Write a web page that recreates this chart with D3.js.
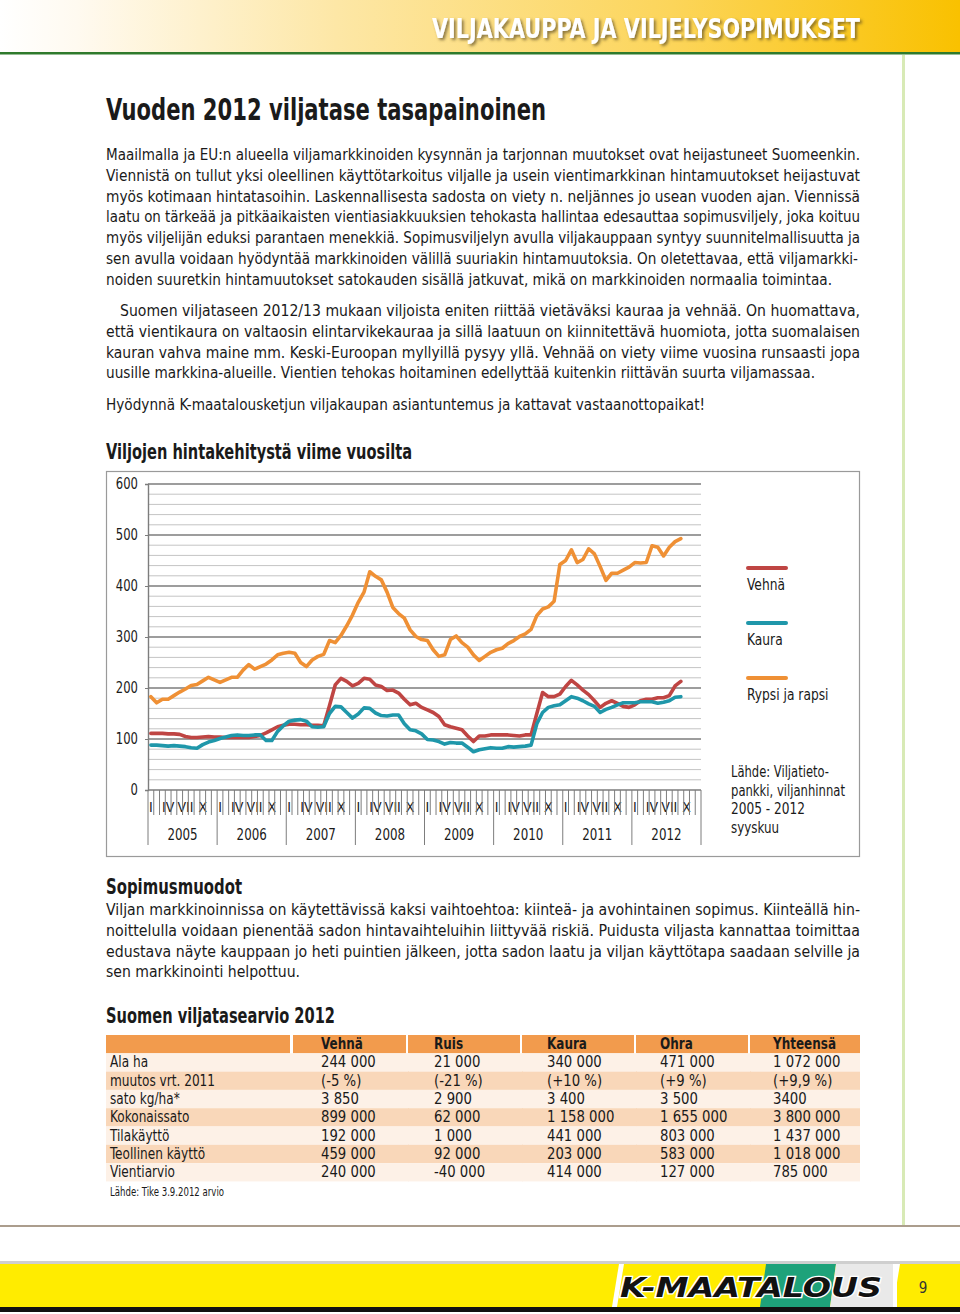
<!DOCTYPE html>
<html><head><meta charset="utf-8">
<script src="https://cdn.jsdelivr.net/npm/d3@7"></script>
<style>
html,body{margin:0;padding:0;background:#fff;}
svg{display:block;}
</style></head>
<body>
<svg id="page" width="960" height="1314"></svg>
<script>
// ---------- DATA ----------
const years = [2005, 2006, 2007, 2008, 2009, 2010, 2011, 2012];
const monthLabels = ["I","II","III","IV","V","VI","VII","VIII","IX","X","XI","XII"];
const shownMonthLabels = ["I","IV","VII","X"];
const yTicks = [0, 100, 200, 300, 400, 500, 600];
const seriesNames = ["Vehnä", "Kaura", "Rypsi ja rapsi"];
// monthly prices Jan 2005 .. Sep 2012 (€/t)
const vehna = [111,111,111,110,110,109,105,103,103,104,105,104,
  104,103,103,103,103,103,105,107,112,118,124,127,
  129,129,128,128,127,127,126,165,206,219,213,204,
  209,219,217,206,203,195,196,190,178,167,170,162,
  157,152,144,128,124,121,118,106,95,106,106,108,
  108,108,108,107,106,108,108,150,191,183,183,188,
  203,215,206,196,187,175,162,170,175,170,164,162,
  167,175,178,178,181,181,185,204,213];
const kaura = [88,88,87,86,87,86,85,83,82,89,94,97,
  101,104,107,108,107,107,108,108,97,97,115,126,
  135,137,138,135,124,123,124,150,164,163,152,141,
  149,161,160,151,146,145,147,147,130,118,116,110,
  99,98,95,90,93,92,92,84,75,79,81,83,
  82,82,85,84,85,86,88,130,152,162,165,167,
  175,183,180,175,169,164,152,158,162,167,171,171,
  171,173,173,173,170,172,175,182,183];
const rypsi = [183,171,178,178,185,192,198,205,207,214,221,216,
  211,216,221,221,235,246,237,242,247,255,265,268,
  270,268,250,242,255,262,266,293,289,303,322,343,
  368,388,428,419,412,388,358,346,337,314,301,295,
  293,275,262,265,295,302,289,280,265,254,262,270,
  275,278,287,293,301,306,315,342,355,359,370,442,
  450,471,446,452,473,463,438,411,425,425,431,437,
  446,445,446,479,476,459,476,487,493];

const tableCols = ["", "Vehnä", "Ruis", "Kaura", "Ohra", "Yhteensä"];
const tableRowLabels = ["Ala ha","muutos vrt. 2011","sato kg/ha*","Kokonaissato","Tilakäyttö","Teollinen käyttö","Vientiarvio"];
const colVehna = ["244 000","(-5 %)","3 850","899 000","192 000","459 000","240 000"];
const colRuis = ["21 000","(-21 %)","2 900","62 000","1 000","92 000","-40 000"];
const colKaura = ["340 000","(+10 %)","3 400","1 158 000","441 000","203 000","414 000"];
const colOhra = ["471 000","(+9 %)","3 500","1 655 000","803 000","583 000","127 000"];
const colYht = ["1 072 000","(+9,9 %)","3400","3 800 000","1 437 000","1 018 000","785 000"];

const para1 = [
 "Maailmalla ja EU:n alueella viljamarkkinoiden kysynnän ja tarjonnan muutokset ovat heijastuneet Suomeenkin.",
 "Viennistä on tullut yksi oleellinen käyttötarkoitus viljalle ja usein vientimarkkinan hintamuutokset heijastuvat",
 "myös kotimaan hintatasoihin. Laskennallisesta sadosta on viety n. neljännes jo usean vuoden ajan. Viennissä",
 "laatu on tärkeää ja pitkäaikaisten vientiasiakkuuksien tehokasta hallintaa edesauttaa sopimusviljely, joka koituu",
 "myös viljelijän eduksi parantaen menekkiä. Sopimusviljelyn avulla viljakauppaan syntyy suunnitelmallisuutta ja",
 "sen avulla voidaan hyödyntää markkinoiden välillä suuriakin hintamuutoksia. On oletettavaa, että viljamarkki-",
 "noiden suuretkin hintamuutokset satokauden sisällä jatkuvat, mikä on markkinoiden normaalia toimintaa."];
const para2 = [
 "Suomen viljataseen 2012/13 mukaan viljoista eniten riittää vietäväksi kauraa ja vehnää. On huomattava,",
 "että vientikaura on valtaosin elintarvikekauraa ja sillä laatuun on kiinnitettävä huomiota, jotta suomalaisen",
 "kauran vahva maine mm. Keski-Euroopan myllyillä pysyy yllä. Vehnää on viety viime vuosina runsaasti jopa",
 "uusille markkina-alueille. Vientien tehokas hoitaminen edellyttää kuitenkin riittävän suurta viljamassaa."];
const para3 = ["Hyödynnä K-maatalousketjun viljakaupan asiantuntemus ja kattavat vastaanottopaikat!"];
const para4 = [
 "Viljan markkinoinnissa on käytettävissä kaksi vaihtoehtoa: kiinteä- ja avohintainen sopimus. Kiinteällä hin-",
 "noittelulla voidaan pienentää sadon hintavaihteluihin liittyvää riskiä. Puidusta viljasta kannattaa toimittaa",
 "edustava näyte kauppaan jo heti puintien jälkeen, jotta sadon laatu ja viljan käyttötapa saadaan selville ja",
 "sen markkinointi helpottuu."];
const sourceLines = ["Lähde: Viljatieto-","pankki, viljanhinnat","2005 - 2012","syyskuu"];

// ---------- PAGE ----------
const FONT = "'Liberation Sans Narrow','DejaVu Sans Condensed','Roboto',sans-serif";
const svg = d3.select("#page");
const defs = svg.append("defs");
const hg = defs.append("linearGradient").attr("id","hdr").attr("x1","0").attr("x2","1").attr("y1","0").attr("y2","0");
hg.append("stop").attr("offset","0").attr("stop-color","#ffffff");
hg.append("stop").attr("offset","0.08").attr("stop-color","#fffaf0");
hg.append("stop").attr("offset","0.35").attr("stop-color","#fde7a6");
hg.append("stop").attr("offset","0.7").attr("stop-color","#fcd55a");
hg.append("stop").attr("offset","1").attr("stop-color","#f9c100");
const sh = defs.append("filter").attr("id","shadow").attr("x","-5%").attr("y","-20%").attr("width","110%").attr("height","160%");
sh.append("feDropShadow").attr("dx",2).attr("dy",2).attr("stdDeviation",1.5).attr("flood-color","#5a4a20").attr("flood-opacity",0.7);

svg.append("rect").attr("x",0).attr("y",0).attr("width",960).attr("height",52).attr("fill","url(#hdr)");
svg.append("rect").attr("x",0).attr("y",52).attr("width",960).attr("height",2.5).attr("fill","#2f7a2c");
svg.append("text").attr("x",860).attr("y",38).attr("text-anchor","end")
  .attr("font-family",FONT).attr("font-weight","bold").attr("font-size",27)
  .attr("fill","#ffffff").attr("filter","url(#shadow)")
  .attr("textLength",428).attr("lengthAdjust","spacingAndGlyphs")
  .text("VILJAKAUPPA JA VILJELYSOPIMUKSET");
// right pale green rule
svg.append("rect").attr("x",902).attr("y",55).attr("width",3).attr("height",1170).attr("fill","#d8eab6");

function compress(sel, k) {
  sel.each(function(){
    const w = this.getComputedTextLength();
    d3.select(this).attr("textLength", w*k).attr("lengthAdjust","spacingAndGlyphs");
  });
  return sel;
}
function textLine(x, y, str, size, opts={}) {
  const t = svg.append("text").attr("x",x).attr("y",y)
    .attr("font-family",FONT).attr("font-size",size).attr("fill",opts.fill||"#1a1a1a")
    .attr("font-weight",opts.bold?"bold":"normal").text(str);
  if (opts.width) t.attr("textLength",opts.width).attr("lengthAdjust",opts.adjust||"spacingAndGlyphs");
  if (opts.k) compress(t, opts.k);
  return t;
}

textLine(106,120,"Vuoden 2012 viljatase tasapainoinen",31,{bold:true,width:440});
const p1W = [754,754,754,754,754,752,726];
para1.forEach((s,i)=>textLine(106,160+i*20.8,s,16.5,{width:p1W[i]}));
const p2X = [120,106,106,106], p2W = [740,754,754,709];
para2.forEach((s,i)=>textLine(p2X[i],316+i*20.8,s,16.5,{width:p2W[i]}));
textLine(106,410,para3[0],16.5,{width:599});

textLine(106,459,"Viljojen hintakehitystä viime vuosilta",20.5,{bold:true,width:306});

// ---------- CHART ----------
svg.append("rect").attr("x",106.5).attr("y",471.5).attr("width",753).attr("height",385)
  .attr("fill","#fff").attr("stroke","#9a9a9a").attr("stroke-width",1.2);

const categories = [];
years.forEach(y=>monthLabels.forEach((m,mi)=>categories.push({year:y,month:m,mi:mi,key:y+"-"+(mi+1)})));
const x = d3.scaleBand().domain(categories.map(c=>c.key)).range([148,701]).padding(0);
const y = d3.scaleLinear().domain([0,600]).range([790,484]);
const g = svg.append("g");

// minor grid every 20
const minor = d3.range(20,600,20).filter(v=>v%100!==0);
g.append("g").selectAll("line").data(minor).join("line")
  .attr("x1",148).attr("x2",701).attr("y1",d=>y(d)).attr("y2",d=>y(d))
  .attr("stroke","#c4c4c4").attr("stroke-width",1);
g.append("g").selectAll("line").data(yTicks.filter(v=>v>0)).join("line")
  .attr("x1",148).attr("x2",701).attr("y1",d=>y(d)).attr("y2",d=>y(d))
  .attr("stroke","#7d7d7d").attr("stroke-width",1.4);

// y axis
const yAx = g.append("g").attr("transform","translate(148,0)")
  .call(d3.axisLeft(y).tickValues(yTicks).tickSize(3).tickPadding(7).tickFormat(d3.format("d")));
yAx.select(".domain").attr("stroke","#7d7d7d").attr("stroke-width",1.4);
yAx.selectAll(".tick line").attr("stroke","#7d7d7d");
yAx.selectAll("text").attr("font-family",FONT).attr("font-size",15).attr("fill","#1a1a1a");
compress(yAx.selectAll("text"), 0.86);

// x axis (multi-level month/year)
const xa = g.append("g");
xa.append("line").attr("x1",148).attr("x2",701).attr("y1",790).attr("y2",790).attr("stroke","#7d7d7d").attr("stroke-width",1.4);
const bw = x.bandwidth();
xa.append("g").selectAll("text").data(categories.filter(c=>shownMonthLabels.includes(c.month))).join("text")
  .attr("x",d=>x(d.key)+bw/2).attr("y",812).attr("text-anchor","middle")
  .attr("font-family",FONT).attr("font-size",14).attr("fill","#1a1a1a").text(d=>d.month);
xa.append("g").selectAll("line").data(categories).join("line")
  .attr("x1",d=>x(d.key)).attr("x2",d=>x(d.key)).attr("y1",790).attr("y2",d=>d.mi===0?845:815)
  .attr("stroke","#7d7d7d").attr("stroke-width",1);
xa.append("line").attr("x1",701).attr("x2",701).attr("y1",790).attr("y2",845).attr("stroke","#7d7d7d").attr("stroke-width",1);
const yrTxt = xa.append("g").selectAll("text").data(years).join("text")
  .attr("x",d=>x(d+"-1")+bw*6).attr("y",840).attr("text-anchor","middle")
  .attr("font-family",FONT).attr("font-size",15.5).attr("fill","#1a1a1a").text(d=>d);
compress(yrTxt, 0.85);

// lines
const colors = ["#bf4543","#1f97aa","#ef9035"];
const seriesData = [vehna,kaura,rypsi];
const line = d3.line().x((d,i)=>x(categories[i].key)+bw/2).y(d=>y(d)).curve(d3.curveLinear);
[2,0,1].forEach(si=>{
  g.append("path").datum(seriesData[si]).attr("d",line).attr("fill","none")
    .attr("stroke",colors[si]).attr("stroke-width",3.6).attr("stroke-linejoin","round").attr("stroke-linecap","round");
});

// legend
const legY = [568,623,678];
seriesNames.forEach((n,i)=>{
  svg.append("line").attr("x1",748).attr("x2",786).attr("y1",legY[i]).attr("y2",legY[i])
    .attr("stroke",colors[i]).attr("stroke-width",4).attr("stroke-linecap","round");
  textLine(747,legY[i]+22,n,15.5,{k:0.88});
});
const srcW = [98,114,74,48];
sourceLines.forEach((s,i)=>textLine(731,777+i*18.7,s,15.5,{width:srcW[i]}));

// ---------- Sopimusmuodot ----------
textLine(106,894,"Sopimusmuodot",20.5,{bold:true,width:136});
const p4W = [754,754,754,194];
para4.forEach((s,i)=>textLine(106,915+i*20.8,s,16.5,{width:p4W[i]}));

textLine(106,1023,"Suomen viljatasearvio 2012",20.5,{bold:true,width:229});

// ---------- TABLE ----------
const colX = [106,293,408,522,636,750];
const colR = [290,406,520,634,748,860];
const txtX = [110,321,434,547,660,773];
const rowTop = 1035, rowH = 18.3;
const cols = [tableRowLabels,colVehna,colRuis,colKaura,colOhra,colYht];
const tg = svg.append("g");
colX.forEach((cx,ci)=>{
  tg.append("rect").attr("x",cx).attr("y",rowTop).attr("width",colR[ci]-cx).attr("height",rowH)
    .attr("fill","#f29b4d");
  if (tableCols[ci]) compress(tg.append("text").attr("x",txtX[ci]).attr("y",rowTop+14)
    .attr("font-family",FONT).attr("font-weight","bold").attr("font-size",15.5).attr("fill","#1a1a1a").text(tableCols[ci]), 0.86);
});
tableRowLabels.forEach((r,ri)=>{
  const yy = rowTop+rowH*(ri+1);
  colX.forEach((cx,ci)=>{
    tg.append("rect").attr("x",cx).attr("y",yy).attr("width",colR[ci]-cx+(ci<5?3:0)).attr("height",rowH)
      .attr("fill",ri%2===0?"#fdf1e7":"#f9d7b9");
    compress(tg.append("text").attr("x",txtX[ci]).attr("y",yy+14)
      .attr("font-family",FONT).attr("font-size",15.5).attr("fill","#1a1a1a").text(cols[ci][ri]), ci===0?0.87:0.95);
  });
});
textLine(110,1196,"Lähde: Tike 3.9.2012 arvio",11.5,{width:114});

// ---------- FOOTER ----------
svg.append("rect").attr("x",0).attr("y",1225).attr("width",960).attr("height",2).attr("fill","#ab9d8d");
svg.append("rect").attr("x",0).attr("y",1261).attr("width",960).attr("height",3).attr("fill","#cfcfcf");
svg.append("rect").attr("x",0).attr("y",1264).attr("width",960).attr("height",43).attr("fill","#ffec00");
svg.append("rect").attr("x",0).attr("y",1307).attr("width",960).attr("height",5).attr("fill","#111");
svg.append("polygon").attr("points","612,1307 619,1264 900,1264 893,1307").attr("fill","#ffffff");
svg.append("polygon").attr("points","617,1307 624,1264 893,1264 893,1307").attr("fill","#ffec00");
svg.append("polygon").attr("points","760,1307 766,1264 836,1264 830,1307").attr("fill","#1ea27a");
svg.append("polygon").attr("points","830,1307 836,1264 893,1264 893,1307").attr("fill","#e9e9e9");
svg.append("rect").attr("x",893).attr("y",1264).attr("width",4).attr("height",43).attr("fill","#ffffff");
svg.append("text").attr("x",620).attr("y",1297).attr("font-family","'DejaVu Sans',sans-serif")
  .attr("font-weight","bold").attr("font-style","italic").attr("font-size",27)
  .attr("fill","#111").attr("stroke","#ffffff").attr("stroke-width",2.5).attr("paint-order","stroke")
  .attr("textLength",262).attr("lengthAdjust","spacingAndGlyphs").text("K-MAATALOUS");
svg.append("text").attr("x",923).attr("y",1293).attr("text-anchor","middle")
  .attr("font-family",FONT).attr("font-size",15).attr("fill","#333").text("9");
</script>
</body></html>
